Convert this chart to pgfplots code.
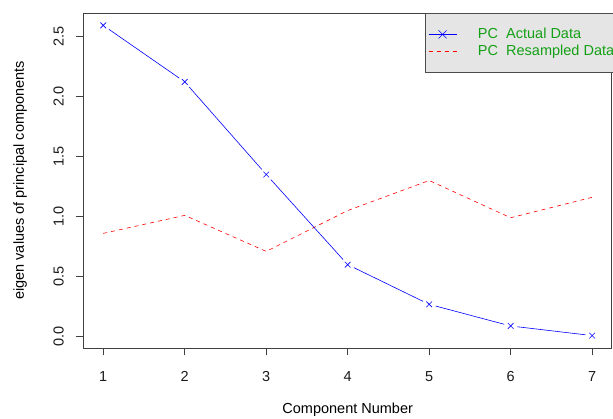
\documentclass[border=0pt]{standalone}
\usepackage{pgfplots}
\pgfplotsset{compat=1.18}
\usepackage{fontspec}
\setmainfont{Liberation Sans}
\definecolor{legtext}{RGB}{20,160,20}
\begin{document}
\begin{tikzpicture}
\path[use as bounding box] (-83.7pt,-71pt) rectangle (529.3pt,348pt);
\clip (-83.7pt,-71pt) rectangle (529.3pt,348pt);
\begin{axis}[
  scale only axis, width=528pt, height=335pt,
  xmin=0.76, xmax=7.24, ymin=-0.0932, ymax=2.6932,
  axis line style={black!75, line width=0.8pt},
  every tick/.style={black!75, line width=0.8pt},
  tick align=outside, major tick length=7.5pt,
  xtick={1,2,3,4,5,6,7}, ytick={0,0.5,1,1.5,2,2.5},
  xtick pos=bottom, ytick pos=left,
  /pgf/number format/assume math mode=true,
  yticklabel={\pgfmathprintnumber[fixed,fixed zerofill,precision=1]{\tick}},
  tick label style={font=\fontsize{14.5}{16}\selectfont, black!90},
  xticklabel style={yshift=-12pt},
  yticklabel style={rotate=90, anchor=south, yshift=9pt},
  xlabel={Component Number}, ylabel={eigen values of principal components},
  every axis x label/.style={at={(axis description cs:0.5,0)}, anchor=center, yshift=-62pt, font=\fontsize{14.5}{16}\selectfont},
  every axis y label/.style={at={(axis description cs:-0.1206,0.5)}, anchor=center, rotate=90, font=\fontsize{14.5}{16}\selectfont},
  legend style={at={(axis description cs:0.646,1)}, anchor=north west,
    fill=black!10, draw=black!70, line width=0.8pt,
    font=\fontsize{14.5}{16}\selectfont, text=legtext,
    inner xsep=3pt, inner ysep=13pt, row sep=1pt, cells={anchor=west}},
]
\addlegendimage{legend image code/.code={
  \draw[draw=blue, line width=0.6pt] (0pt,0pt) -- (28pt,0pt);
  \draw[draw=blue, line width=0.6pt] (10pt,-4pt) -- (18pt,4pt) (10pt,4pt) -- (18pt,-4pt);}}
\addlegendentry{\hspace{19pt}PC\ \ Actual Data}
\addplot[red, draw=red, line width=0.6pt, dash pattern=on 4pt off 4pt,
  legend image code/.code={\draw[draw=red, line width=0.8pt, dash pattern=on 4pt off 4pt] (0pt,0pt) -- (28pt,0pt);}] coordinates {
(1,0.86) (2,1.01) (3,0.71) (4,1.05) (5,1.30) (6,0.99) (7,1.16)};
\addlegendentry{\hspace{19pt}PC\ \ Resampled Data}
\addplot[blue, line width=0.6pt, forget plot] coordinates {
(1,2.59) (2,2.12) (3,1.35) (4,0.60) (5,0.27) (6,0.09) (7,0.01)};
\addplot[only marks, white, mark=*, mark size=6.5pt, mark options={draw=white, fill=white}, forget plot] coordinates {
(1,2.59) (2,2.12) (3,1.35) (4,0.60) (5,0.27) (6,0.09) (7,0.01)};
\addplot[only marks, blue, mark=x, mark size=4pt, line width=0.6pt, forget plot] coordinates {
(1,2.59) (2,2.12) (3,1.35) (4,0.60) (5,0.27) (6,0.09) (7,0.01)};
\end{axis}
\end{tikzpicture}
\end{document}
